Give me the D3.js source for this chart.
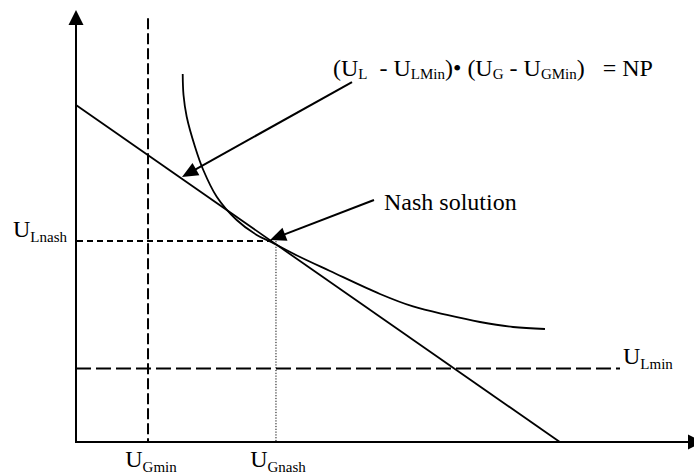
<!DOCTYPE html>
<html>
<head>
<meta charset="utf-8">
<script src="https://cdn.jsdelivr.net/npm/d3@7"></script>
<style>
  html, body { margin: 0; padding: 0; background: #fff; }
  svg { display: block; }
</style>
</head>
<body>
<svg id="chart" width="694" height="474"></svg>
<script>
// ---------- data (schematic units, 0..100 on each axis) ----------
// Nash-product indifference curve (U_L - U_LMin)(U_G - U_GMin) = NP
const curveX = [17.38, 17.51, 18.03, 19.38, 20.73, 22.92, 26.17, 29.43, 31.92, 35.99, 41.37, 49.51, 54.89, 60.42, 65.80, 71.17, 76.38];
const curveY = [85.19, 80.32, 75.30, 68.36, 62.96, 56.78, 51.39, 47.92, 46.18, 43.17, 39.58, 34.26, 31.37, 29.40, 27.78, 26.62, 26.16];
// utility-possibility frontier (straight line)
const frontierX = [0, 78.8];
const frontierY = [78.0, 0];
// reference levels
const UGmin = 11.73, UGnash = 32.57;
const ULnash = 46.5, ULmin = 17.0;
const UGminTop = 98.1;      // top end of the U_Gmin dashed line
const ULminRight = 88.6;    // right end of the U_Lmin dashed line
const ULnashRight = 31.9;   // right end of the U_Lnash dashed line
// annotation arrows: [x, y]
const arrowFrom = [[44.95, 83.33], [48.53, 56.02]];
const arrowTo   = [[17.26, 61.34], [31.60, 46.76]];
// texts: pieces [string, isSubscript]
const formulaLabel = [["(U",0],["L",1],["  - U",0],["LMin",1],[")• (U",0],["G",1],[" - U",0],["GMin",1],[")   = NP",0]];
const nashLabel = "Nash solution";
const xTickLabels = [[["U",0],["Gmin",1]], [["U",0],["Gnash",1]]];
const yTickLabels = [[["U",0],["Lnash",1]], [["U",0],["Lmin",1]]];

const FONT = "'Times New Roman', 'Liberation Serif', Tinos, 'DejaVu Serif', serif";
const MAIN = 24, SUB = 15;

// ---------- scales ----------
const x = d3.scaleLinear().domain([0, 100]).range([76, 690]);
const y = d3.scaleLinear().domain([0, 100]).range([442, 10]);

const svg = d3.select("#chart");

function arrowHead(g, x1, y1, x2, y2, len, half) {
  const dx = x2 - x1, dy = y2 - y1, L = Math.hypot(dx, dy);
  const ux = dx / L, uy = dy / L;
  const bx = x2 - ux * len, by = y2 - uy * len;
  g.append("path")
    .attr("d", `M${x2},${y2}L${bx - uy * half},${by + ux * half}L${bx + uy * half},${by - ux * half}Z`)
    .attr("fill", "#000");
}

function richText(g, pieces, px, py, mainSize, subSize, subDy, anchor) {
  const t = g.append("text").attr("x", px).attr("y", py)
    .attr("text-anchor", anchor || "start")
    .attr("font-family", FONT).attr("fill", "#000")
    .attr("xml:space", "preserve").style("white-space", "pre");
  pieces.forEach(([s, sub], i) => {
    const prevSub = i > 0 ? pieces[i - 1][1] : 0;
    const ts = t.append("tspan").text(s).attr("font-size", sub ? subSize : mainSize);
    const d = (sub ? subDy : 0) - (prevSub ? subDy : 0);
    if (d) ts.attr("dy", d);
  });
  return t;
}

// ---------- axes ----------
const axes = svg.append("g");
axes.append("line").attr("x1", x(0)).attr("y1", y(0) + 1).attr("x2", x(0)).attr("y2", y(100) + 12)
  .attr("stroke", "#000").attr("stroke-width", 2);
arrowHead(axes, x(0), y(0), x(0), y(100), 15, 7.5);
axes.append("line").attr("x1", x(0) - 1).attr("y1", y(0)).attr("x2", x(100) + 2).attr("y2", y(0))
  .attr("stroke", "#000").attr("stroke-width", 2);
arrowHead(axes, x(0), y(0), x(100) + 13, y(0), 15, 7.5);

// ---------- guide lines ----------
const guides = svg.append("g").attr("fill", "none").attr("stroke", "#000");
guides.append("line").attr("x1", x(UGmin)).attr("x2", x(UGmin)).attr("y1", y(UGminTop)).attr("y2", y(0))
  .attr("stroke-width", 2).attr("stroke-dasharray", "11,4");
guides.append("line").attr("x1", x(0)).attr("x2", x(ULminRight)).attr("y1", y(ULmin)).attr("y2", y(ULmin))
  .attr("stroke-width", 2).attr("stroke-dasharray", "15,5");
guides.append("line").attr("x1", x(0) + 1).attr("x2", x(ULnashRight)).attr("y1", y(ULnash)).attr("y2", y(ULnash))
  .attr("stroke-width", 2).attr("stroke-dasharray", "6,4");
guides.append("line").attr("x1", x(UGnash)).attr("x2", x(UGnash)).attr("y1", y(ULnash)).attr("y2", y(0))
  .attr("stroke-width", 1).attr("stroke-dasharray", "1.2,1.6");

// ---------- frontier and curve ----------
const straight = d3.line().x(d => x(d[0])).y(d => y(d[1]));
const smooth = d3.line().x(d => x(d[0])).y(d => y(d[1])).curve(d3.curveCatmullRom.alpha(0.5));
svg.append("path").datum(d3.zip(frontierX, frontierY)).attr("d", straight)
  .attr("fill", "none").attr("stroke", "#000").attr("stroke-width", 1.8);
svg.append("path").datum(d3.zip(curveX, curveY)).attr("d", smooth)
  .attr("fill", "none").attr("stroke", "#000").attr("stroke-width", 1.8);

// ---------- annotation arrows ----------
const ann = svg.append("g");
arrowFrom.forEach((f, i) => {
  const t = arrowTo[i];
  const x1 = x(f[0]), y1 = y(f[1]), x2 = x(t[0]), y2 = y(t[1]);
  const L = Math.hypot(x2 - x1, y2 - y1);
  ann.append("line").attr("x1", x1).attr("y1", y1)
    .attr("x2", x2 - (x2 - x1) / L * 10).attr("y2", y2 - (y2 - y1) / L * 10)
    .attr("stroke", "#000").attr("stroke-width", 2);
  arrowHead(ann, x1, y1, x2, y2, 16, 7);
});

// ---------- texts ----------
const txt = svg.append("g");
richText(txt, formulaLabel, x(arrowFrom[0][0]) - 19, y(arrowFrom[0][1]) - 6, MAIN, SUB, 3, "start");
richText(txt, [[nashLabel, 0]], x(arrowFrom[1][0]) + 10, y(arrowFrom[1][1]) + 10, MAIN, SUB, 0, "start");
richText(txt, xTickLabels[0], x(UGmin) + 3, y(0) + 25, MAIN, SUB, 5, "middle");
richText(txt, xTickLabels[1], x(UGnash) + 2, y(0) + 25, MAIN, SUB, 5, "middle");
richText(txt, yTickLabels[0], x(0) - 9, y(ULnash) - 4, MAIN, SUB, 5, "end");
richText(txt, yTickLabels[1], x(ULminRight) + 3, y(ULmin) - 5, MAIN, SUB, 5, "start");
</script>
</body>
</html>
